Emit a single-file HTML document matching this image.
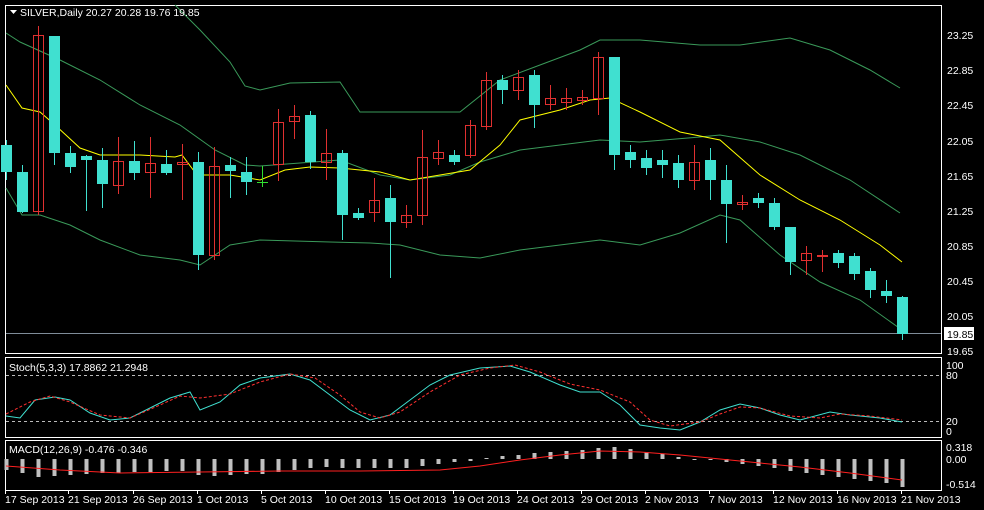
<!DOCTYPE html>
<html><head><meta charset="utf-8"><style>
body{margin:0;background:#000;width:984px;height:510px;overflow:hidden}
svg{display:block}
text{font-family:"Liberation Sans",sans-serif;font-size:10.5px;fill:#fff}
</style></head><body>
<svg id="s" width="984" height="510" xmlns="http://www.w3.org/2000/svg">
<rect x="0" y="0" width="984" height="510" fill="#000"/>
<rect x="5.5" y="5.5" width="936" height="348" fill="none" stroke="#fff"/>
<rect x="5.5" y="357.5" width="936" height="80" fill="none" stroke="#fff"/>
<rect x="5.5" y="440.5" width="936" height="50" fill="none" stroke="#fff"/>
<line x1="6" y1="333.5" x2="941" y2="333.5" stroke="#7f8c99"/>
<g id="g"></g>
<path d="M10 10 l7 0 l-3.5 4z" fill="#fff"/>
<text x="20" y="16">SILVER,Daily  20.27 20.28 19.76 19.85</text>
<text x="9" y="371">Stoch(5,3,3) 17.8862 21.2948</text>
<text x="9" y="453">MACD(12,26,9) -0.476 -0.346</text>
<g>
<text x="947" y="39">23.25</text><text x="947" y="74">22.85</text><text x="947" y="109">22.45</text>
<text x="947" y="145">22.05</text><text x="947" y="180">21.65</text><text x="947" y="215">21.25</text>
<text x="947" y="250">20.85</text><text x="947" y="285">20.45</text><text x="947" y="320">20.05</text>
<text x="947" y="355">19.65</text>
<rect x="944" y="327" width="30" height="13" fill="#fff"/><text x="947" y="338" style="fill:#000">19.85</text>
<text x="946" y="369">100</text><text x="946" y="379">80</text><text x="946" y="425">20</text><text x="946" y="435">0</text>
<text x="946" y="451">0.318</text><text x="946" y="463">0.00</text><text x="946" y="488">-0.514</text>
</g>
<g>
<text x="5" y="503">17 Sep 2013</text><text x="68" y="503">21 Sep 2013</text><text x="133" y="503">26 Sep 2013</text>
<text x="197" y="503">1 Oct 2013</text><text x="261" y="503">5 Oct 2013</text><text x="325" y="503">10 Oct 2013</text>
<text x="389" y="503">15 Oct 2013</text><text x="453" y="503">19 Oct 2013</text><text x="517" y="503">24 Oct 2013</text>
<text x="581" y="503">29 Oct 2013</text><text x="645" y="503">2 Nov 2013</text><text x="709" y="503">7 Nov 2013</text>
<text x="773" y="503">12 Nov 2013</text><text x="837" y="503">16 Nov 2013</text><text x="901" y="503">21 Nov 2013</text>
</g>
</svg>
<script>
var g=document.getElementById('g'),NS='http://www.w3.org/2000/svg';
function el(t,a){var e=document.createElementNS(NS,t);for(var k in a)e.setAttribute(k,a[k]);g.appendChild(e);return e;}
function pl(p,c,w,d){el('polyline',{points:p,fill:'none',stroke:c,'stroke-width':w||1,'stroke-dasharray':d||''});}
[375,421].forEach(function(y){el('line',{x1:6,y1:y+.5,x2:941,y2:y+.5,stroke:'#bbb','stroke-dasharray':'3,3'})});
[5,68,133,197,261,325,389,453,517,581,645,709,773,837,901].forEach(function(x){el('line',{x1:x+.5,y1:490,x2:x+.5,y2:494,stroke:'#fff'})});
pl('175,5 200,30 230,62 245,86 260,90 290,83 340,82 360,112 460,112 500,80 540,65 580,50 600,40 640,40 700,45 740,45 790,38 830,50 870,70 900,88','#3a9a5a');
pl('6,33 20,42 60,60 100,80 140,105 180,125 215,150 245,165 260,166 300,163 340,160 380,175 410,180 450,175 480,162 520,150 560,145 600,140 640,142 700,137 720,135 760,142 800,155 850,180 900,213','#3a9a5a');
pl('6,188 22,215 40,215 70,225 100,240 140,255 180,260 200,265 230,245 260,240 330,242 370,243 400,245 440,255 480,258 520,250 560,245 600,240 640,245 680,233 720,215 740,220 780,255 820,282 860,300 902,330','#3a9a5a');
pl('6,85 22,108 40,112 55,125 80,148 100,155 140,155 175,157 182,155 197,175 230,175 260,180 285,170 310,167 340,168 380,172 410,180 440,175 470,170 500,145 520,120 560,110 590,100 610,98 640,112 680,132 720,140 760,175 800,200 840,220 880,245 902,262','#ffff00');
var C=[[145,172,140,180,'c'],[172,212,165,213,'c'],[35,211,26,215,'r'],[36,153,36,165,'c'],[153,167,146,173,'c'],[156,160,155,211,'c'],[160,184,148,208,'c'],[161,185,137,194,'r'],[161,173,141,180,'c'],[163,172,137,198,'r'],[164,173,150,175,'c'],[162,164,144,200,'r'],[162,255,152,270,'c'],[166,255,147,260,'r'],[165,171,157,198,'c'],[172,182,157,195,'c'],[182,182,166,187,'g'],[122,164,109,181,'r'],[116,121,105,139,'r'],[115,162,111,169,'c'],[153,162,129,180,'r'],[153,215,150,240,'c'],[213,218,208,220,'c'],[200,212,178,222,'r'],[198,222,185,278,'c'],[215,222,205,228,'r'],[157,215,130,225,'r'],[152,158,140,165,'r'],[155,162,150,165,'c'],[125,155,120,158,'r'],[80,126,72,130,'r'],[80,90,75,104,'c'],[77,90,70,100,'r'],[75,105,70,128,'c'],[98,104,85,110,'r'],[98,102,88,110,'r'],[97,100,90,105,'r'],[57,98,52,115,'r'],[57,155,57,170,'c'],[152,160,145,168,'c'],[158,168,150,175,'c'],[160,165,150,178,'c'],[163,180,155,188,'c'],[162,180,145,190,'r'],[160,180,148,200,'c'],[180,204,165,243,'c'],[202,204,195,210,'r'],[198,203,193,208,'c'],[203,227,198,230,'c'],[227,262,227,275,'c'],[253,260,246,275,'r'],[255,256,250,272,'r'],[253,263,250,268,'c'],[256,274,253,280,'c'],[271,290,268,298,'c'],[291,296,280,303,'c'],[297,334,296,340,'c']];
C.forEach(function(c,i){var x=6+16*i,col=c[4]=='c'?'#40e0d0':c[4]=='r'?'#e03030':'#30e030';
el('line',{x1:x+.5,y1:c[2],x2:x+.5,y2:c[3],stroke:col});
if(c[4]=='c')el('rect',{x:x-5,y:c[0],width:11,height:Math.max(1,c[1]-c[0]),fill:col});
else if(c[4]=='r')el('rect',{x:x-4.5,y:c[0]+.5,width:10,height:Math.max(1,c[1]-c[0]),fill:'none',stroke:col});
else el('line',{x1:x-5,y1:c[0]+.5,x2:x+6,y2:c[0]+.5,stroke:col});});
pl('6,416 20,418 35,400 55,397 70,400 90,413 110,420 130,418 150,408 170,398 190,392 200,410 220,402 240,385 260,378 290,374 310,380 330,395 350,410 370,420 390,415 410,400 430,385 450,375 480,368 510,366 530,372 560,385 580,392 600,392 620,405 640,425 660,428 680,430 700,422 720,410 740,404 760,408 780,415 800,420 830,412 850,415 880,418 902,422','#40e0d0');
pl('6,414 30,402 50,396 70,402 100,415 130,418 160,405 180,396 200,398 230,394 260,382 290,374 315,378 340,395 360,412 380,418 400,412 430,392 460,375 490,368 515,365 540,372 570,384 600,390 630,402 650,420 670,426 700,422 720,414 740,407 760,408 790,416 820,418 840,414 870,416 902,420','#ff3030',1,'3,2');
var H=[-11,-14,-18,-17,-16,-15,-14,-14,-13,-13,-12,-12,-16,-17,-16,-15,-15,-13,-11,-9,-8,-9,-9,-9,-9,-9,-7,-5,-3,-2,1,3,4,6,7,8,9,11,12,10,7,5,2,0,-1,-3,-5,-7,-9,-12,-14,-16,-18,-20,-22,-24,-28];
H.forEach(function(h,i){var x=6+16*i;el('rect',{x:x-1.5,y:h>0?459-h:459,width:4,height:Math.max(1,Math.abs(h)),fill:'#c0c0c0'});});
pl('6,466 60,470 120,473 200,472 280,471 360,471 440,470 480,466 520,460 560,455 600,451 640,452 680,455 720,459 760,463 800,467 850,473 902,480','#ff2020');
</script>
</body></html>
